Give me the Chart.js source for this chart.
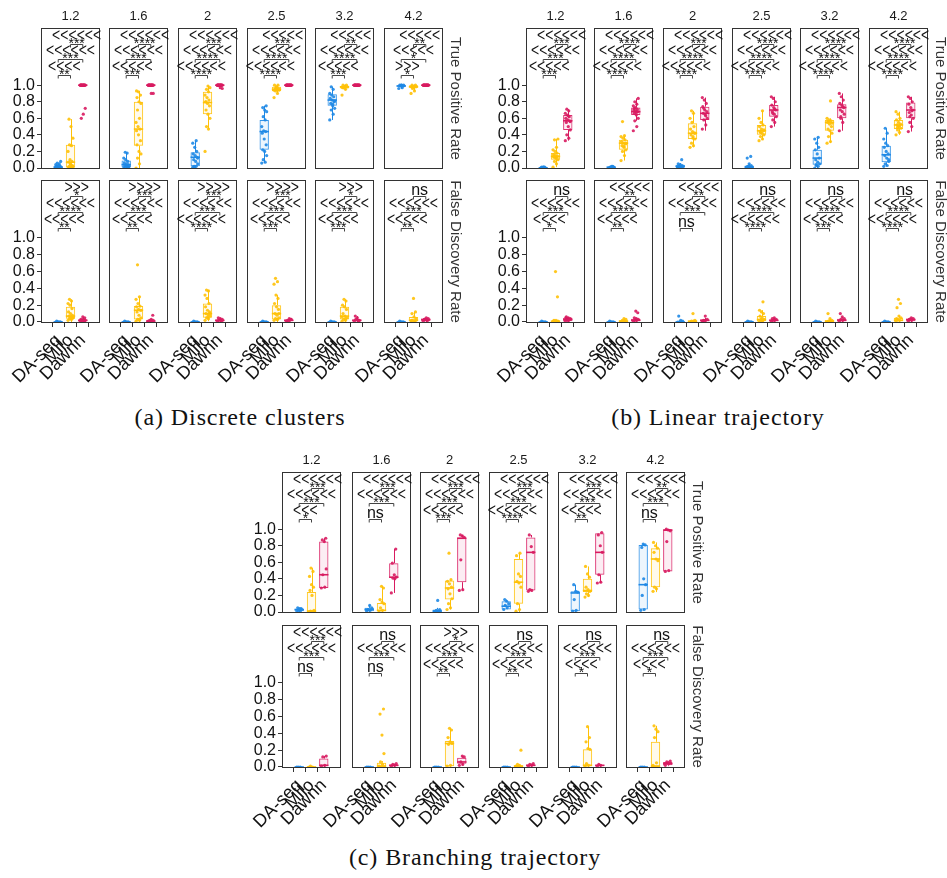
<!DOCTYPE html>
<html>
<head>
<meta charset="utf-8">
<script src="https://cdn.jsdelivr.net/npm/chart.js@4/dist/chart.umd.min.js"></script>
<style>
  body { margin: 0; background: #fff; width: 947px; height: 878px; position: relative; overflow: hidden; }
  canvas { position: absolute; }
  .cap { position: absolute; font-family: 'Liberation Serif', serif; font-size: 24px; color: #111; white-space: nowrap; transform: translateX(-50%); letter-spacing: 0.9px; }
</style>
</head>
<body>
<div class="cap" style="left:240px;top:404px">(a) Discrete clusters</div>
<div class="cap" style="left:718px;top:404px">(b) Linear trajectory</div>
<div class="cap" style="left:475px;top:844px">(c) Branching trajectory</div>
<script>
// ------------------------------------------------------------
// DATA
// ------------------------------------------------------------
var facets = ['1.2', '1.6', '2', '2.5', '3.2', '4.2'];
var methods = ['DA-seq', 'Milo', 'Dawnn'];
var methodColors = ['#1E88E5', '#FFC107', '#D81B60'];
var yTickValues = [0, 0.2, 0.4, 0.6, 0.8, 1.0];
var rowLabels = ['True Positive Rate', 'False Discovery Rate'];

// box stats per facet, per method: [lower whisker, q1, median, q3, upper whisker]
var discTprBox = [
  [[0, 0, 0.01, 0.02, 0.05], [0, 0.01, 0.07, 0.28, 0.59], [1, 1, 1, 1, 1]],
  [[0, 0.01, 0.04, 0.09, 0.19], [0, 0.27, 0.47, 0.8, 0.93], [1, 1, 1, 1, 1]],
  [[0, 0.02, 0.13, 0.19, 0.33], [0.47, 0.65, 0.79, 0.92, 0.99], [0.99, 1, 1, 1, 1]],
  [[0.06, 0.22, 0.44, 0.58, 0.75], [0.9, 0.93, 0.95, 0.98, 1], [1, 1, 1, 1, 1]],
  [[0.58, 0.75, 0.82, 0.89, 0.98], [0.94, 0.96, 0.98, 0.99, 1], [1, 1, 1, 1, 1]],
  [[0.96, 0.98, 0.99, 1, 1], [0.93, 0.97, 0.98, 1, 1], [1, 1, 1, 1, 1]]
];
var discTprPts = [
  [[0, 0, 0, 0, 0.01, 0.01, 0.01, 0.02, 0.02, 0.03, 0.03, 0.04, 0.05, 0.06, 0.08, 0, 0.01, 0.02],
   [0, 0, 0, 0.01, 0.01, 0.02, 0.03, 0.05, 0.07, 0.08, 0.1, 0.2, 0.27, 0.28, 0.36, 0.5, 0.59, 0.02, 0.04],
   [1, 1, 1, 1, 1, 1, 1, 1, 1, 1, 1, 1, 1, 1, 0.72, 0.65, 0.6]],
  [[0, 0, 0.01, 0.01, 0.02, 0.03, 0.04, 0.05, 0.06, 0.08, 0.1, 0.12, 0.18, 0.19, 0.02, 0.03],
   [0, 0.05, 0.12, 0.17, 0.2, 0.28, 0.33, 0.4, 0.45, 0.47, 0.5, 0.55, 0.6, 0.7, 0.78, 0.8, 0.85, 0.88, 0.92, 0.93],
   [1, 1, 1, 1, 1, 1, 1, 1, 1, 1, 1, 1, 1, 1, 0.9, 0.9]],
  [[0.01, 0.02, 0.02, 0.05, 0.08, 0.1, 0.13, 0.15, 0.17, 0.2, 0.25, 0.3, 0.33, 0.01, 0.12],
   [0.2, 0.47, 0.5, 0.6, 0.65, 0.7, 0.75, 0.78, 0.8, 0.82, 0.85, 0.88, 0.92, 0.95, 0.97, 0.99, 0.8],
   [1, 1, 1, 1, 1, 1, 1, 1, 1, 1, 1, 1, 1, 1, 0.96, 0.97]],
  [[0.06, 0.07, 0.1, 0.15, 0.2, 0.22, 0.28, 0.35, 0.42, 0.44, 0.45, 0.5, 0.58, 0.62, 0.68, 0.7, 0.73, 0.75],
   [0.85, 0.9, 0.93, 0.94, 0.95, 0.95, 0.96, 0.98, 1, 1, 0.97, 0.94],
   [1, 1, 1, 1, 1, 1, 1, 1, 1, 1, 1, 1, 1, 1, 1]],
  [[0.58, 0.65, 0.7, 0.72, 0.75, 0.78, 0.8, 0.82, 0.84, 0.86, 0.88, 0.9, 0.95, 0.98, 0.81, 0.77],
   [0.88, 0.95, 0.97, 0.98, 0.99, 1, 1, 0.98, 0.97],
   [1, 1, 1, 1, 1, 1, 1, 1, 1, 1, 1, 1, 1, 1, 1]],
  [[0.96, 0.97, 0.99, 1, 1, 1, 0.99, 1],
   [0.9, 0.93, 0.96, 0.98, 0.99, 1, 1, 0.97, 0.98],
   [1, 1, 1, 1, 1, 1, 1, 1, 1, 1, 1, 1, 1, 1, 1]]
];
var discFdrBox = [
  [[0, 0, 0, 0, 0.01], [0, 0.04, 0.07, 0.18, 0.27], [0, 0.01, 0.02, 0.03, 0.06]],
  [[0, 0, 0, 0, 0.01], [0, 0.03, 0.14, 0.19, 0.3], [0, 0.01, 0.01, 0.02, 0.03]],
  [[0, 0, 0, 0, 0.01], [0.01, 0.05, 0.1, 0.22, 0.38], [0, 0.01, 0.02, 0.03, 0.05]],
  [[0, 0, 0, 0, 0.01], [0, 0.03, 0.1, 0.2, 0.32], [0, 0.01, 0.02, 0.03, 0.04]],
  [[0, 0, 0, 0, 0.01], [0, 0.03, 0.07, 0.18, 0.27], [0, 0.01, 0.02, 0.03, 0.07]],
  [[0, 0, 0, 0, 0.01], [0, 0.01, 0.02, 0.06, 0.12], [0, 0.01, 0.03, 0.04, 0.05]]
];
var discFdrPts = [
  [[0, 0, 0, 0, 0, 0.01, 0, 0],
   [0.02, 0.03, 0.04, 0.05, 0.06, 0.07, 0.08, 0.1, 0.12, 0.16, 0.2, 0.22, 0.25, 0.27, 0.05, 0.04],
   [0.01, 0.01, 0.02, 0.02, 0.03, 0.02, 0.05, 0.06, 0.03, 0.01]],
  [[0, 0, 0, 0, 0, 0.01, 0, 0],
   [0.01, 0.02, 0.03, 0.05, 0.08, 0.12, 0.14, 0.15, 0.18, 0.19, 0.22, 0.27, 0.3, 0.68, 0.14, 0.03],
   [0.01, 0.01, 0.02, 0.02, 0.03, 0.01, 0.08]],
  [[0, 0, 0, 0, 0, 0.01, 0, 0],
   [0.02, 0.04, 0.05, 0.07, 0.09, 0.1, 0.12, 0.14, 0.18, 0.22, 0.28, 0.32, 0.37, 0.38, 0.1, 0.06],
   [0.01, 0.02, 0.02, 0.03, 0.04, 0.05, 0.01]],
  [[0, 0, 0, 0, 0, 0.01, 0, 0],
   [0.02, 0.03, 0.04, 0.05, 0.08, 0.1, 0.15, 0.18, 0.22, 0.28, 0.32, 0.45, 0.48, 0.52, 0.1, 0.03],
   [0.01, 0.02, 0.02, 0.03, 0.04, 0.01, 0.03]],
  [[0, 0, 0, 0, 0, 0.01, 0, 0],
   [0.01, 0.02, 0.03, 0.05, 0.07, 0.1, 0.15, 0.18, 0.2, 0.25, 0.27, 0.06, 0.04],
   [0.01, 0.02, 0.03, 0.02, 0.05, 0.07, 0.01]],
  [[0, 0, 0, 0, 0, 0.01, 0, 0],
   [0, 0.01, 0.02, 0.04, 0.06, 0.1, 0.12, 0.28, 0.02, 0.01],
   [0.01, 0.02, 0.03, 0.04, 0.05, 0.03, 0.02]]
];

var linTprBox = [
  [[0, 0, 0, 0.01, 0.01], [0.01, 0.1, 0.14, 0.18, 0.35], [0.33, 0.46, 0.57, 0.64, 0.71]],
  [[0, 0, 0.01, 0.01, 0.02], [0.09, 0.22, 0.3, 0.34, 0.39], [0.57, 0.64, 0.68, 0.73, 0.84]],
  [[0, 0, 0.02, 0.04, 0.06], [0.25, 0.35, 0.42, 0.54, 0.69], [0.45, 0.58, 0.66, 0.74, 0.85]],
  [[0, 0, 0.01, 0.03, 0.05], [0.34, 0.4, 0.45, 0.52, 0.69], [0.5, 0.62, 0.7, 0.76, 0.86]],
  [[0, 0.04, 0.12, 0.22, 0.37], [0.3, 0.45, 0.55, 0.58, 0.6], [0.45, 0.6, 0.73, 0.77, 0.9]],
  [[0.02, 0.07, 0.16, 0.27, 0.48], [0.4, 0.47, 0.52, 0.58, 0.68], [0.44, 0.6, 0.7, 0.79, 0.86]]
];
var linTprPts = [
  [[0, 0, 0, 0, 0.01, 0.01, 0, 0.01, 0, 0.01, 0, 0],
   [0.01, 0.05, 0.08, 0.1, 0.12, 0.13, 0.14, 0.15, 0.16, 0.18, 0.2, 0.22, 0.25, 0.34, 0.35, 0.12, 0.14],
   [0.33, 0.36, 0.4, 0.46, 0.5, 0.55, 0.57, 0.58, 0.6, 0.62, 0.64, 0.66, 0.69, 0.71, 0.56, 0.63]],
  [[0, 0, 0.01, 0.01, 0.02, 0, 0.01, 0.01, 0, 0.02],
   [0.09, 0.15, 0.2, 0.22, 0.25, 0.27, 0.29, 0.3, 0.32, 0.34, 0.36, 0.38, 0.39, 0.56, 0.3, 0.26],
   [0.45, 0.5, 0.57, 0.6, 0.64, 0.66, 0.68, 0.69, 0.7, 0.71, 0.73, 0.75, 0.77, 0.8, 0.84, 0.67, 0.72]],
  [[0, 0, 0.01, 0.01, 0.02, 0.02, 0.03, 0.04, 0.05, 0.1, 0.03, 0.01],
   [0.25, 0.27, 0.3, 0.35, 0.38, 0.4, 0.42, 0.44, 0.47, 0.5, 0.55, 0.6, 0.66, 0.69, 0.42, 0.36],
   [0.47, 0.52, 0.58, 0.6, 0.64, 0.66, 0.68, 0.7, 0.74, 0.78, 0.82, 0.85, 0.63, 0.72]],
  [[0, 0, 0, 0.01, 0.01, 0.02, 0.03, 0.05, 0.12, 0.14, 0.02, 0.01],
   [0.33, 0.35, 0.38, 0.4, 0.42, 0.44, 0.45, 0.47, 0.5, 0.52, 0.55, 0.6, 0.69, 0.43, 0.46],
   [0.5, 0.55, 0.58, 0.62, 0.65, 0.68, 0.7, 0.73, 0.76, 0.8, 0.84, 0.86, 0.71, 0.66]],
  [[0, 0.02, 0.03, 0.05, 0.07, 0.1, 0.12, 0.17, 0.22, 0.25, 0.3, 0.35, 0.37, 0.04],
   [0.3, 0.32, 0.38, 0.42, 0.45, 0.47, 0.5, 0.53, 0.55, 0.57, 0.58, 0.6, 0.81, 0.56, 0.54],
   [0.45, 0.55, 0.6, 0.65, 0.68, 0.7, 0.73, 0.76, 0.78, 0.82, 0.86, 0.9, 0.74, 0.62]],
  [[0.02, 0.03, 0.05, 0.08, 0.12, 0.15, 0.17, 0.2, 0.25, 0.27, 0.3, 0.35, 0.42, 0.48, 0.1],
   [0.4, 0.43, 0.46, 0.48, 0.5, 0.52, 0.53, 0.55, 0.58, 0.6, 0.65, 0.68, 0.51, 0.49],
   [0.44, 0.5, 0.55, 0.6, 0.64, 0.67, 0.7, 0.73, 0.77, 0.8, 0.84, 0.86, 0.69, 0.62]]
];
var linFdrBox = [
  [[0, 0, 0, 0, 0.01], [0, 0, 0.01, 0.01, 0.02], [0, 0.01, 0.03, 0.05, 0.06]],
  [[0, 0, 0, 0, 0.01], [0, 0, 0.01, 0.02, 0.04], [0, 0.01, 0.02, 0.04, 0.05]],
  [[0, 0, 0, 0, 0.01], [0, 0, 0.01, 0.01, 0.02], [0, 0.01, 0.02, 0.03, 0.05]],
  [[0, 0, 0, 0, 0.01], [0, 0.01, 0.03, 0.07, 0.14], [0, 0.01, 0.02, 0.03, 0.05]],
  [[0, 0, 0, 0, 0.01], [0, 0, 0.01, 0.02, 0.04], [0, 0.01, 0.02, 0.04, 0.06]],
  [[0, 0, 0, 0, 0.01], [0, 0.01, 0.02, 0.05, 0.07], [0, 0.01, 0.03, 0.04, 0.05]]
];
var linFdrPts = [
  [[0, 0, 0, 0, 0, 0.01, 0, 0],
   [0, 0, 0.01, 0.01, 0.02, 0.02, 0.3, 0.6, 0.01],
   [0.01, 0.02, 0.03, 0.04, 0.05, 0.06, 0.03, 0.02, 0.05]],
  [[0, 0, 0, 0, 0, 0.01, 0, 0],
   [0, 0.01, 0.02, 0.03, 0.04, 0.01],
   [0.01, 0.02, 0.02, 0.03, 0.04, 0.05, 0.11, 0.13]],
  [[0, 0, 0, 0.01, 0.02, 0.07, 0, 0],
   [0, 0.01, 0.01, 0.02, 0.1],
   [0.01, 0.02, 0.02, 0.03, 0.07, 0.01]],
  [[0, 0, 0, 0, 0, 0.01, 0, 0],
   [0, 0.01, 0.02, 0.03, 0.05, 0.07, 0.1, 0.12, 0.14, 0.24, 0.03],
   [0.01, 0.02, 0.02, 0.03, 0.05, 0.04]],
  [[0, 0, 0, 0, 0, 0.01, 0, 0],
   [0, 0.01, 0.01, 0.02, 0.04, 0.1],
   [0.01, 0.02, 0.03, 0.04, 0.06, 0.1]],
  [[0, 0, 0, 0, 0, 0.01, 0, 0],
   [0.01, 0.02, 0.03, 0.05, 0.07, 0.17, 0.22, 0.27, 0.04],
   [0.01, 0.02, 0.03, 0.04, 0.05, 0.03]]
];

var brTprBox = [
  [[0, 0.01, 0.03, 0.04, 0.05], [0, 0, 0.01, 0.24, 0.53], [0.29, 0.29, 0.45, 0.85, 0.89]],
  [[0, 0.01, 0.03, 0.05, 0.08], [0, 0.01, 0.02, 0.11, 0.31], [0.23, 0.41, 0.42, 0.59, 0.76]],
  [[0, 0, 0.01, 0.03, 0.05], [0.03, 0.15, 0.29, 0.38, 0.39], [0.26, 0.36, 0.89, 0.9, 0.93]],
  [[0.03, 0.03, 0.07, 0.13, 0.15], [0, 0.1, 0.36, 0.64, 0.71], [0.25, 0.26, 0.72, 0.9, 0.93]],
  [[0, 0.01, 0.23, 0.25, 0.33], [0.18, 0.24, 0.26, 0.4, 0.55], [0.35, 0.45, 0.72, 0.95, 0.96]],
  [[0.02, 0.03, 0.33, 0.81, 0.82], [0.24, 0.3, 0.64, 0.77, 0.84], [0.49, 0.49, 0.99, 0.99, 1]]
];
var brTprPts = [
  [[0, 0.01, 0.02, 0.03, 0.04, 0.05, 0.04],
   [0, 0, 0.01, 0.02, 0.2, 0.26, 0.3, 0.33, 0.43, 0.49, 0.53],
   [0.29, 0.3, 0.45, 0.52, 0.85, 0.87, 0.89]],
  [[0.01, 0.02, 0.03, 0.05, 0.08, 0.03],
   [0, 0.02, 0.05, 0.1, 0.12, 0.15, 0.29, 0.31],
   [0.23, 0.4, 0.41, 0.42, 0.45, 0.59, 0.76]],
  [[0, 0.01, 0.02, 0.03, 0.14],
   [0.03, 0.05, 0.1, 0.16, 0.22, 0.28, 0.3, 0.34, 0.37, 0.39, 0.71],
   [0.26, 0.27, 0.63, 0.9, 0.92, 0.93]],
  [[0.03, 0.05, 0.08, 0.1, 0.13, 0.15],
   [0.01, 0.03, 0.1, 0.3, 0.35, 0.37, 0.43, 0.46, 0.68, 0.71],
   [0.25, 0.26, 0.27, 0.72, 0.79, 0.93]],
  [[0.01, 0.02, 0.15, 0.24, 0.25, 0.33],
   [0.18, 0.2, 0.22, 0.25, 0.27, 0.3, 0.42, 0.46, 0.55],
   [0.35, 0.36, 0.45, 0.72, 0.8, 0.93, 0.96]],
  [[0.02, 0.03, 0.2, 0.33, 0.4, 0.78, 0.81, 0.82],
   [0.25, 0.28, 0.3, 0.62, 0.64, 0.72, 0.77, 0.8, 0.84],
   [0.49, 0.5, 0.85, 0.98, 0.99, 1]]
];
var brFdrBox = [
  [[0, 0, 0, 0, 0.01], [0, 0, 0, 0, 0.01], [0, 0.01, 0.02, 0.1, 0.13]],
  [[0, 0, 0, 0, 0.01], [0, 0, 0.01, 0.05, 0.07], [0, 0.01, 0.02, 0.03, 0.04]],
  [[0, 0, 0, 0, 0.01], [0, 0.01, 0.28, 0.31, 0.46], [0.02, 0.04, 0.06, 0.11, 0.13]],
  [[0, 0, 0, 0, 0.01], [0, 0, 0.01, 0.02, 0.03], [0, 0.01, 0.02, 0.03, 0.04]],
  [[0, 0, 0, 0, 0.01], [0, 0.01, 0.02, 0.21, 0.48], [0, 0.01, 0.02, 0.02, 0.03]],
  [[0, 0, 0, 0, 0.01], [0, 0, 0.01, 0.3, 0.49], [0.01, 0.02, 0.04, 0.06, 0.07]]
];
var brFdrPts = [
  [[0, 0, 0], [0, 0, 0.01], [0.01, 0.02, 0.12, 0.13]],
  [[0, 0, 0], [0.01, 0.03, 0.06, 0.16, 0.38, 0.63, 0.69], [0.01, 0.02, 0.03, 0.04]],
  [[0, 0, 0], [0.01, 0.02, 0.27, 0.28, 0.3, 0.35, 0.44, 0.46], [0.02, 0.03, 0.06, 0.12, 0.13]],
  [[0, 0, 0], [0.01, 0.02, 0.03, 0.2], [0.01, 0.02, 0.03, 0.04]],
  [[0, 0, 0], [0.01, 0.02, 0.04, 0.21, 0.22, 0.3, 0.35, 0.48], [0.01, 0.02, 0.03]],
  [[0, 0, 0], [0.02, 0.05, 0.35, 0.42, 0.45, 0.49], [0.02, 0.04, 0.06, 0.07]]
];

// significance labels: [DA-seq vs Milo, DA-seq vs Dawnn, Milo vs Dawnn] as [arrows, stars]
var NS = ['ns', ''];
var discTprSig = [
  [['<<<<', '**'], ['<<<<<<', '***'], ['<<<<<<', '***']],
  [['<<<<<', '***'], ['<<<<<<', '***'], ['<<<<<<', '****']],
  [['<<<<<<', '****'], ['<<<<<<', '****'], ['<<<<<<', '***']],
  [['<<<<<<', '****'], ['<<<<<<', '****'], ['<<<<<', '***']],
  [['<<<<<', '***'], ['<<<<<<', '****'], ['<<<<<', '**']],
  [['>>>', '*'], ['<<<<<', '*'], ['<<<<<', '**']]
];
var discFdrSig = [
  [['<<<<<', '**'], ['<<<<<<', '****'], ['>>>', '*']],
  [['<<<<<', '**'], ['<<<<<<', '***'], ['>>>>', '***']],
  [['<<<<<<', '****'], ['<<<<<<', '***'], ['>>>>', '***']],
  [['<<<<<', '***'], ['<<<<<<', '***'], ['>>>>', '***']],
  [['<<<<<', '***'], ['<<<<<<', '***'], ['>>>', '*']],
  [['<<<<<', '**'], ['<<<<<<', '***'], NS]
];
var linTprSig = [
  [['<<<<<', '***'], ['<<<<<<', '***'], ['<<<<<<', '***']],
  [['<<<<<<', '****'], ['<<<<<<', '****'], ['<<<<<<', '****']],
  [['<<<<<<', '****'], ['<<<<<<', '****'], ['<<<<<<', '***']],
  [['<<<<<<', '****'], ['<<<<<<', '****'], ['<<<<<<', '****']],
  [['<<<<<<', '****'], ['<<<<<<', '****'], ['<<<<<<', '****']],
  [['<<<<<<', '****'], ['<<<<<<', '****'], ['<<<<<<', '****']]
];
var linFdrSig = [
  [['<<<<', '*'], ['<<<<<<', '***'], NS],
  [['<<<<<', '**'], ['<<<<<<', '****'], ['<<<<<', '**']],
  [NS, ['<<<<<<', '***'], ['<<<<<', '**']],
  [['<<<<<<', '****'], ['<<<<<<', '****'], NS],
  [['<<<<<', '***'], ['<<<<<<', '****'], NS],
  [['<<<<<<', '****'], ['<<<<<<', '****'], NS]
];
var brTprSig = [
  [['<<<', '*'], ['<<<<<<', '***'], ['<<<<<<', '***']],
  [NS, ['<<<<<<', '***'], ['<<<<<<', '***']],
  [['<<<<<', '***'], ['<<<<<<', '***'], ['<<<<<<', '***']],
  [['<<<<<<', '****'], ['<<<<<<', '***'], ['<<<<<<', '***']],
  [['<<<<<', '**'], ['<<<<<<', '***'], ['<<<<<<', '***']],
  [NS, ['<<<<<<', '***'], ['<<<<<<', '**']]
];
var brFdrSig = [
  [NS, ['<<<<<<', '***'], ['<<<<<<', '***']],
  [NS, ['<<<<<<', '***'], NS],
  [['<<<<<', '**'], ['<<<<<<', '***'], ['>>>', '*']],
  [['<<<<<', '**'], ['<<<<<<', '***'], NS],
  [['<<<<', '*'], ['<<<<<<', '***'], NS],
  [['<<<<', '*'], ['<<<<<<', '***'], NS]
];

// ------------------------------------------------------------
// LAYOUT
// ------------------------------------------------------------
var FONT = "'Liberation Sans', Arial, sans-serif";
var PLOT_W = 59, PLOT_H = 143;
var PAD_L = 40, PAD_R = 26, PAD_T = 22;
var Y_MIN = -0.012, Y_MAX = 1.69;
var PAIRS = [[0, 1], [0, 2], [1, 2]];
var LEVELS = [1.12, 1.31, 1.50];

var panels = [
  { lefts: [41, 109, 178, 247, 315, 384], tops: [28, 180],
    rows: [[discTprBox, discTprPts, discTprSig], [discFdrBox, discFdrPts, discFdrSig]] },
  { lefts: [526, 594, 663, 732, 800, 869], tops: [28, 180],
    rows: [[linTprBox, linTprPts, linTprSig], [linFdrBox, linFdrPts, linFdrSig]] },
  { lefts: [282, 352, 420, 489, 558, 626], tops: [472, 625],
    rows: [[brTprBox, brTprPts, brTprSig], [brFdrBox, brFdrPts, brFdrSig]] }
];

Chart.defaults.font.family = FONT;
Chart.defaults.color = '#111';

function jitter(k) {
  return (((k * 7) % 11) - 5) * 0.04;
}

function alpha(hex, a) {
  var n = parseInt(hex.slice(1), 16);
  return 'rgba(' + (n >> 16) + ',' + ((n >> 8) & 255) + ',' + (n & 255) + ',' + a + ')';
}

function facetPlugin(info) {
  return {
    id: 'facet',
    beforeDatasetsDraw: function(chart) {
      // whiskers
      var ctx = chart.ctx, xs = chart.scales.x, ys = chart.scales.y;
      ctx.save();
      ctx.lineWidth = 1;
      info.box.forEach(function(b, m) {
        var x = Math.round(xs.getPixelForValue(m)) + 0.5;
        ctx.strokeStyle = methodColors[m];
        ctx.beginPath();
        ctx.moveTo(x, ys.getPixelForValue(b[4]));
        ctx.lineTo(x, ys.getPixelForValue(b[3]));
        ctx.moveTo(x, ys.getPixelForValue(b[1]));
        ctx.lineTo(x, ys.getPixelForValue(b[0]));
        ctx.stroke();
      });
      ctx.restore();
    },
    afterDatasetsDraw: function(chart) {
      // medians
      var ctx = chart.ctx, xs = chart.scales.x, ys = chart.scales.y;
      var hw = 0.38 * (xs.getPixelForValue(1) - xs.getPixelForValue(0));
      ctx.save();
      ctx.lineWidth = 1.6;
      info.box.forEach(function(b, m) {
        var x = xs.getPixelForValue(m), y = ys.getPixelForValue(b[2]);
        ctx.strokeStyle = methodColors[m];
        ctx.beginPath();
        ctx.moveTo(x - hw, y);
        ctx.lineTo(x + hw, y);
        ctx.stroke();
      });
      ctx.restore();
    },
    afterDraw: function(chart) {
      var ctx = chart.ctx, a = chart.chartArea, xs = chart.scales.x, ys = chart.scales.y;
      ctx.save();
      // panel frame
      ctx.strokeStyle = '#333';
      ctx.lineWidth = 1;
      ctx.strokeRect(a.left + 0.5, a.top + 0.5, a.right - a.left - 1, a.bottom - a.top - 1);
      // strip on top
      if (info.row === 0) {
        ctx.fillStyle = '#1a1a1a';
        ctx.font = '13px ' + FONT;
        ctx.textAlign = 'center';
        ctx.textBaseline = 'middle';
        ctx.fillText(info.strip, (a.left + a.right) / 2, a.top - 12);
      }
      // strip on the right
      if (info.rowLabel) {
        ctx.save();
        ctx.translate(a.right + 12, (a.top + a.bottom) / 2);
        ctx.rotate(Math.PI / 2);
        ctx.fillStyle = '#333';
        ctx.font = '15px ' + FONT;
        ctx.textAlign = 'center';
        ctx.textBaseline = 'middle';
        ctx.fillText(info.rowLabel, 0, 0);
        ctx.restore();
      }
      // comparison brackets
      ctx.textAlign = 'center';
      ctx.textBaseline = 'alphabetic';
      info.sig.forEach(function(s, i) {
        var x1 = xs.getPixelForValue(PAIRS[i][0]);
        var x2 = xs.getPixelForValue(PAIRS[i][1]);
        var y = Math.round(ys.getPixelForValue(LEVELS[i])) + 0.5;
        var xm = (x1 + x2) / 2;
        ctx.strokeStyle = '#444';
        ctx.lineWidth = 1;
        ctx.beginPath();
        ctx.moveTo(x1, y + 3);
        ctx.lineTo(x1, y);
        ctx.lineTo(x2, y);
        ctx.lineTo(x2, y + 3);
        ctx.stroke();
        ctx.fillStyle = '#111';
        if (s[0] === 'ns') {
          ctx.font = '16px ' + FONT;
          ctx.fillText('ns', xm, y - 2);
        } else {
          ctx.save();
          ctx.translate(xm, y - 4);
          ctx.scale(1, 1.35);
          ctx.font = '14px ' + FONT;
          ctx.fillText(s[0], 0, 0);
          ctx.restore();
          ctx.font = '14px ' + FONT;
          ctx.fillText(s[1], xm, y + 3);
        }
      });
      ctx.restore();
    }
  };
}

function drawFacet(left, top, row, col, box, pts, sig) {
  var padB = row === 1 ? 76 : 2;
  var cv = document.createElement('canvas');
  cv.width = PAD_L + PLOT_W + PAD_R;
  cv.height = PAD_T + PLOT_H + padB;
  cv.style.left = (left - PAD_L) + 'px';
  cv.style.top = (top - PAD_T) + 'px';
  document.body.appendChild(cv);

  var scatter = [], scatterColors = [];
  pts.forEach(function(list, m) {
    list.forEach(function(v, k) {
      scatter.push({ x: m + jitter(k), y: v });
      scatterColors.push(alpha(methodColors[m], 0.9));
    });
  });
  var bars = box.map(function(b, m) { return { x: m, y: [b[1], b[3]] }; });

  new Chart(cv, {
    type: 'bar',
    data: {
      datasets: [
        { type: 'scatter', data: scatter, backgroundColor: scatterColors, pointRadius: 1.6,
          borderWidth: 0, order: 0 },
        { type: 'bar', data: bars, order: 1,
          backgroundColor: methodColors.map(function(c) { return alpha(c, 0.08); }),
          borderColor: methodColors.map(function(c) { return alpha(c, 0.9); }),
          borderWidth: 1, borderSkipped: false, barPercentage: 0.76, categoryPercentage: 1 }
      ]
    },
    options: {
      responsive: false,
      animation: false,
      events: [],
      layout: { padding: { top: PAD_T, right: PAD_R, left: 0, bottom: row === 1 ? 0 : padB } },
      plugins: { legend: { display: false }, tooltip: { enabled: false } },
      scales: {
        x: {
          type: 'linear', min: -0.6, max: 2.6, display: row === 1,
          afterBuildTicks: function(s) { s.ticks = [0, 1, 2].map(function(v) { return { value: v }; }); },
          afterFit: function(s) { s.height = padB; s.paddingLeft = 0; s.paddingRight = 0; },
          grid: { drawOnChartArea: false, drawTicks: true, tickLength: 4, color: '#333' },
          border: { display: false },
          ticks: {
            autoSkip: false, minRotation: 45, maxRotation: 45, padding: 3,
            font: { size: 18 }, color: '#111',
            callback: function(v) { return methods[v]; }
          }
        },
        y: {
          min: Y_MIN, max: Y_MAX, bounds: 'data',
          afterBuildTicks: function(s) { s.ticks = yTickValues.map(function(v) { return { value: v }; }); },
          afterFit: function(s) { s.width = PAD_L; s.paddingTop = 0; s.paddingBottom = 0; },
          grid: { drawOnChartArea: false, drawTicks: col === 0, tickLength: 4, color: '#333' },
          border: { display: false },
          ticks: {
            display: col === 0, padding: 2, font: { size: 16 }, color: '#111',
            callback: function(v) { return v.toFixed(1); }
          }
        }
      }
    },
    plugins: [facetPlugin({
      box: box, sig: sig, row: row, strip: facets[col],
      rowLabel: col === 5 ? rowLabels[row] : null
    })]
  });
}

panels.forEach(function(p) {
  for (var r = 0; r < 2; r++) {
    for (var c = 0; c < 6; c++) {
      drawFacet(p.lefts[c], p.tops[r], r, c, p.rows[r][0][c], p.rows[r][1][c], p.rows[r][2][c]);
    }
  }
});
</script>
</body>
</html>
